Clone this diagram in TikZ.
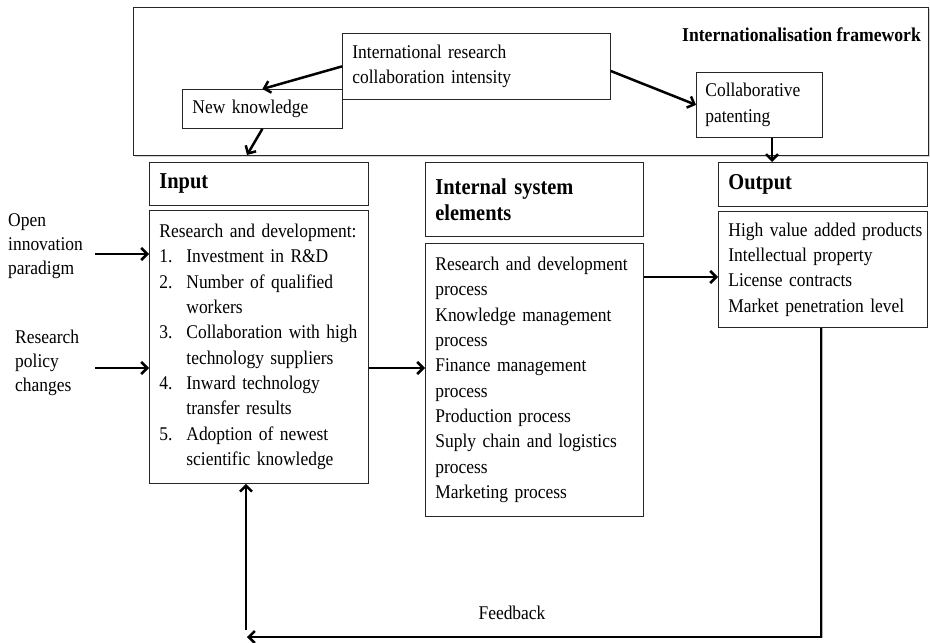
\documentclass[tikz,border=0pt]{standalone}
\usepackage{fontspec}
\setmainfont{Liberation Serif}[FakeStretch=0.9]
\usetikzlibrary{arrows.meta,shadows}
\begin{document}
\begin{tikzpicture}[x=1bp,y=-1bp,
  txt/.style={font=\fontsize{19.4bp}{25.3bp}\selectfont},
  hdr/.style={font=\fontsize{22.7bp}{26bp}\selectfont\bfseries},
  boxn/.style={draw=black!85, line width=0.8bp, anchor=north west, inner xsep=10bp, inner ysep=0bp, align=left},
  lbl/.style={inner sep=0bp, align=left, anchor=west, font=\fontsize{19.4bp}{24bp}\selectfont},
  arr/.style={line width=2.5bp, -{Straight Barb[length=6bp,width=12bp]}}
]
\useasboundingbox (0,0) rectangle (930,643);

% framework
\node[draw=black!85, line width=1.1bp, anchor=north west, minimum width=795bp, minimum height=148bp, inner sep=0bp,
  drop shadow={opacity=0.35, shadow xshift=1bp, shadow yshift=-1.5bp}, fill=white] (fw) at (133,7) {};
\node[font=\fontsize{19.6bp}{25bp}\selectfont\bfseries, anchor=east, inner sep=0bp] (title) at (921,35) {Internationalisation framework};

\node[boxn, txt, text width=248bp, minimum height=66bp] (intl) at (342,33) {International research\\collaboration intensity};
\node[boxn, txt, text width=140bp, minimum height=39bp] (nk) at (182,89) {New knowledge};
\node[boxn, txt, text width=108bp, inner xsep=9bp, minimum height=65bp] (collab) at (696,72) {Collaborative\\patenting};

% headers
\node[boxn, hdr, text width=199bp, minimum height=43bp] (inhead) at (149,162) {Input};
\node[boxn, hdr, text width=198bp, minimum height=74bp] (inthead) at (425,162) {Internal system\\elements};
\node[boxn, hdr, text width=189bp, minimum height=44bp] (outhead) at (718,162) {Output};

% bodies
\node[boxn, txt, text width=199bp, minimum height=273bp] (inbody) at (149,210) {\mbox{Research and development:}\\
\makebox[27bp][l]{1.}Investment in R\&D\\
\makebox[27bp][l]{2.}Number of qualified\\
\hspace*{27bp}workers\\
\mbox{\makebox[27bp][l]{3.}Collaboration with high}\\
\hspace*{27bp}technology suppliers\\
\makebox[27bp][l]{4.}Inward technology\\
\hspace*{27bp}transfer results\\
\makebox[27bp][l]{5.}Adoption of newest\\
\mbox{\hspace*{27bp}scientific knowledge}};
\node[boxn, txt, text width=198bp, minimum height=273bp] (intbody) at (425,243) {\mbox{Research and development}\\process\\Knowledge management\\process\\Finance management\\process\\Production process\\\mbox{Suply chain and logistics}\\process\\Marketing process};
\node[boxn, txt, text width=189bp, minimum height=116bp] (outbody) at (718,211) {\mbox{High value added products}\\Intellectual property\\License contracts\\\mbox{Market penetration level}};

% left labels
\node[lbl] (open) at (8,246) {Open\\innovation\\paradigm};
\node[lbl] (policy) at (15,363) {Research\\policy\\changes};
\node[txt, inner sep=0bp] (fbtxt) at (512,613) {Feedback};

% connectors
\coordinate (o1) at (95,254);
\draw[arr] (o1) -- (o1 -| inbody.west);
\coordinate (p1) at (95,368);
\draw[arr] (p1) -- (p1 -| inbody.west);
\draw[arr] (inbody.east |- 0,368) -- (intbody.west |- 0,368);
\draw[arr] (intbody.east |- 0,277) -- (outbody.west |- 0,277);
\draw[arr] (intl.west) -- (nk.north);
\coordinate (nkend) at (247,155);
\draw[arr] (nk.south) -- (nkend);
\draw[arr] (intl.east |- 0,71) -- (collab.west);
\draw[arr] (collab.south -| 772,0) -- (outhead.north -| 772,0);
\coordinate (fbend) at (247,637);
\draw[line width=2.5bp, black!30, shift={(1bp,-1.5bp)}] (outbody.south -| 821,0) |- (fbend);
\draw[arr] (outbody.south -| 821,0) |- (fbend);
\coordinate (fbup) at (246,630);
\draw[arr] (fbup) -- (inbody.south -| fbup);
\end{tikzpicture}
\end{document}
